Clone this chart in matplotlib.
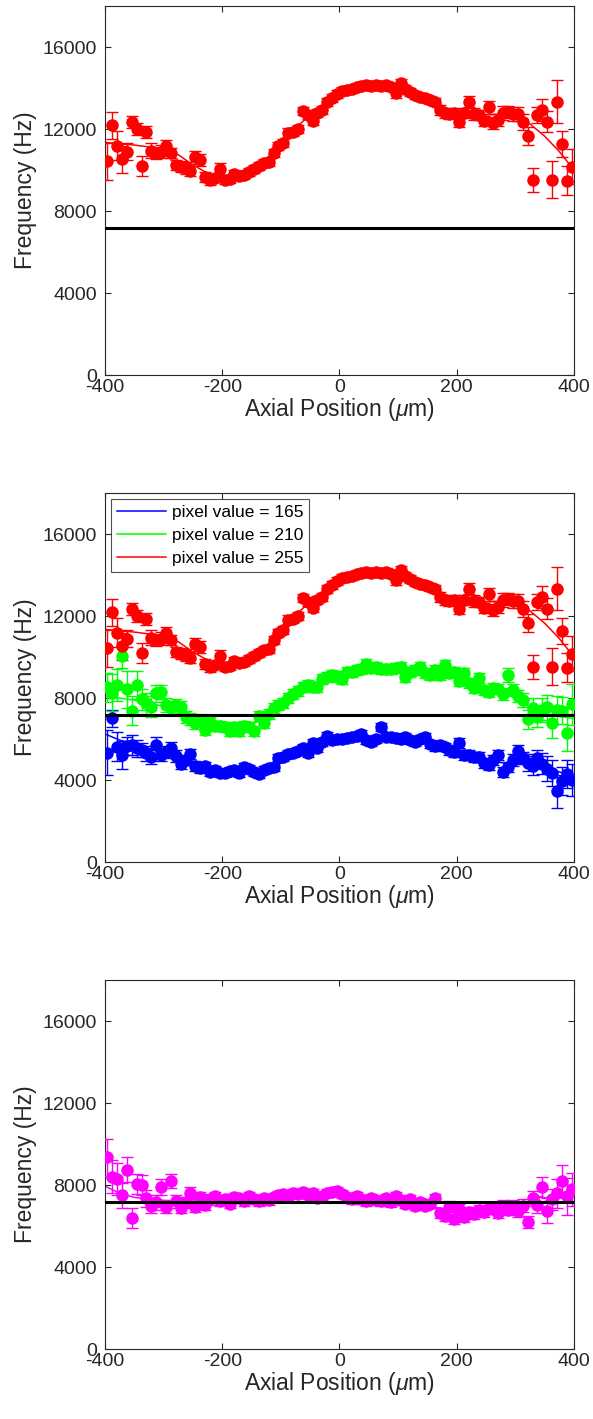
import matplotlib.pyplot as plt
import numpy as np

plt.rcParams['font.family'] = ['Liberation Sans', 'DejaVu Sans']
plt.rcParams['axes.unicode_minus'] = False
plt.rcParams['mathtext.fontset'] = 'custom'
plt.rcParams['mathtext.rm'] = 'Liberation Sans'
plt.rcParams['mathtext.it'] = 'Liberation Sans:italic'

# axial positions of the measured points (um), evenly spaced grid
x_pos = np.linspace(-396, 396, 96)

red_freq = [10440, 12190, 11190, 10530, 10900, 12350, 12020, 10200, 11860, 10950,
            10820, 10900, 11180, 10850, 10250, 10170, 10090, 9970, 10620, 10490,
            9650, 9520, 9600, 10050, 9520, 9550, 9810, 9710, 9760, 9920,
            10040, 10200, 10330, 10410, 10820, 11180, 11310, 11830, 11870, 12000,
            12900, 12690, 12410, 12770, 12930, 13340, 13500, 13700, 13850, 13900,
            13950, 14050, 14100, 14150, 14100, 14150, 14100, 14150, 14050, 13750,
            14250, 13950, 13825, 13660, 13580, 13500, 13420, 13340, 12930, 12770,
            12740, 12800, 12360, 12800, 13340, 12740, 12690, 12410, 13060, 12280,
            12440, 12770, 12850, 12740, 12740, 12360, 11660, 9520, 12690, 12930,
            12360, 9520, 13340, 11270, 9480, 10170]
red_err = [900, 650, 700, 650, 400, 300, 300, 500, 300, 350, 300, 300, 300, 250, 250, 250, 300, 250, 300, 300,
           250, 250, 200, 300, 200, 200, 200, 200, 200, 200, 200, 200, 200, 200, 200, 200, 200, 200, 200, 200,
           200, 200, 200, 200, 200, 200, 200, 200, 200, 200, 200, 200, 200, 200, 200, 200, 200, 200, 200, 250,
           200, 200, 200, 200, 200, 200, 200, 200, 250, 250, 250, 250, 250, 250, 250, 300, 250, 250, 300, 300,
           300, 350, 300, 350, 350, 400, 450, 600, 400, 550, 500, 900, 1050, 650, 700, 850]

green_freq = [8525, 8262, 8638, 10053, 8427, 7384, 8638, 7940, 7745, 7580,
              8232, 8310, 7662, 7500, 7662, 7580, 7090, 6963, 6768, 6930,
              6442, 6850, 6637, 6637, 6572, 6408, 6572, 6408, 6637, 6572,
              6408, 7125, 6800, 7222, 7500, 7662, 7774, 7988, 8198, 8360,
              8525, 8638, 8555, 8555, 8915, 9013, 9126, 9050, 8915, 9287,
              9287, 9370, 9400, 9662, 9450, 9530, 9400, 9400, 9400, 9450,
              9530, 9042, 9287, 9370, 9530, 9207, 9126, 9370, 9126, 9613,
              9207, 9287, 8850, 9240, 8752, 8475, 8963, 8394, 8310, 8475,
              8426, 8198, 9126, 8394, 8100, 7906, 6963, 7500, 7090, 7418,
              7549, 6768, 7418, 7384, 6310, 7710]
green_err = [700, 900, 800, 600, 900, 700, 700, 500, 500, 500, 400, 350, 350, 350, 300, 300, 300, 300, 300, 300,
             250, 250, 250, 250, 250, 250, 250, 250, 250, 250, 250, 250, 250, 250, 250, 250, 250, 250, 250, 250,
             250, 250, 250, 250, 250, 250, 250, 250, 250, 250, 250, 250, 250, 250, 250, 250, 250, 250, 250, 250,
             250, 250, 250, 250, 250, 250, 250, 250, 250, 250, 250, 250, 250, 250, 250, 250, 250, 250, 250, 250,
             250, 300, 350, 300, 300, 350, 450, 500, 500, 600, 600, 700, 700, 650, 900, 1000]

blue_freq = [5335, 7012, 5627, 5222, 5660, 5710, 5548, 5466, 5303, 5140,
             5710, 5222, 5384, 5548, 5173, 4782, 4978, 5270, 4685, 4572,
             4685, 4407, 4490, 4328, 4360, 4455, 4490, 4328, 4650, 4523,
             4407, 4294, 4490, 4572, 4650, 5060, 5140, 5270, 5303, 5431,
             5548, 5303, 5822, 5548, 5870, 6149, 5954, 5990, 5990, 6040,
             6120, 6150, 6250, 5950, 5870, 5990, 6570, 6120, 6120, 6040,
             5990, 6120, 5950, 5870, 5990, 6120, 5760, 5660, 5710, 5600,
             5470, 5380, 5790, 5220, 5220, 5140, 5140, 4820, 4730, 4980,
             5220, 4400, 4650, 4980, 5430, 5060, 4850, 4700, 5100, 4800,
             4550, 4350, 3450, 3950, 4300, 4000]
blue_err = [1100, 400, 700, 700, 450, 500, 400, 350, 350, 350, 400, 300, 300, 300, 300, 250, 250, 250, 250, 250,
            200, 200, 200, 200, 200, 200, 200, 200, 200, 200, 200, 200, 200, 200, 200, 200, 200, 200, 200, 200,
            200, 200, 200, 200, 200, 200, 200, 200, 200, 200, 200, 200, 200, 200, 200, 200, 200, 200, 200, 200,
            200, 200, 200, 200, 200, 200, 200, 250, 200, 200, 250, 250, 250, 250, 250, 250, 250, 250, 250, 250,
            250, 250, 250, 300, 300, 300, 400, 450, 350, 500, 600, 650, 800, 700, 700, 800]

magenta_freq = [9350, 8400, 8300, 7500, 8750, 6400, 8050, 8000, 7350, 7000,
                7150, 7900, 6950, 8200, 7200, 6900, 7150, 7600, 6950, 7400,
                7050, 7300, 7450, 7200, 7300, 7100, 7400, 7350, 7200, 7450,
                7300, 7200, 7350, 7250, 7400, 7500, 7550, 7450, 7600, 7550,
                7650, 7500, 7600, 7350, 7450, 7600, 7650, 7700, 7550, 7400,
                7300, 7450, 7300, 7200, 7350, 7250, 7200, 7350, 7150, 7450,
                7250, 7100, 7300, 7000, 7150, 7000, 7100, 7350, 6650, 6500,
                6950, 6350, 6850, 6450, 6700, 6600, 6800, 6700, 6900, 6850,
                6650, 7000, 6800, 6950, 6750, 7000, 6200, 7350, 7050, 7900,
                6750, 7300, 7600, 8200, 7450, 7800]
magenta_err = [900, 800, 800, 600, 600, 500, 500, 500, 400, 350, 350, 400, 300, 350, 300, 250, 250, 300, 250, 250,
               250, 250, 200, 200, 200, 200, 200, 200, 200, 200, 200, 200, 200, 200, 200, 200, 200, 200, 200, 200,
               200, 200, 200, 200, 200, 200, 200, 200, 200, 200, 200, 200, 200, 200, 200, 200, 200, 200, 200, 200,
               200, 200, 200, 200, 200, 200, 200, 200, 250, 250, 250, 250, 250, 250, 250, 250, 250, 250, 250, 250,
               250, 250, 250, 300, 300, 300, 300, 350, 400, 500, 600, 500, 700, 800, 900, 800]

# fitted curves, sampled every 25 um
fit_x = [-400, -375, -350, -325, -300, -275, -250, -225, -200, -175, -150, -125, -100, -75, -50, -25,
         0, 25, 50, 75, 100, 125, 150, 175, 200, 225, 250, 275, 300, 325, 350, 375, 400]
red_fit = [11350, 11280, 11220, 11130, 11000, 10750, 10250, 9850, 9680, 9750, 10050, 10550, 11250, 12050,
           12700, 13200, 13650, 13950, 14100, 14120, 14000, 13750, 13450, 13100, 12850, 12750, 12700, 12720,
           12650, 12250, 11650, 10900, 10000]
green_fit = [8100, 8000, 7900, 7750, 7600, 7350, 7000, 6750, 6600, 6550, 6700, 7100, 7600, 8100, 8500, 8850,
             9100, 9300, 9400, 9450, 9450, 9350, 9250, 9150, 9000, 8800, 8550, 8300, 8000, 7550, 7250, 7100, 7000]
blue_fit = [6250, 5950, 5750, 5550, 5350, 5050, 4750, 4500, 4400, 4400, 4450, 4650, 5050, 5400, 5650, 5850,
            6000, 6100, 6100, 6100, 6050, 6000, 5900, 5700, 5450, 5250, 5000, 4850, 4800, 4750, 4600, 4400, 4150]
magenta_fit = [7950, 7600, 7400, 7300, 7250, 7220, 7220, 7250, 7280, 7300, 7350, 7400, 7450, 7500, 7520, 7500,
               7450, 7380, 7300, 7250, 7200, 7100, 7000, 6850, 6750, 6700, 6750, 6850, 6950, 7050, 7200, 7400, 7700]

ref_freq = 7150
legend_labels = ['pixel value = 165', 'pixel value = 210', 'pixel value = 255']

RED = '#ff0000'
GREEN = '#00ff00'
BLUE = '#0000ff'
MAGENTA = '#ff00ff'
AXCOL = '#262626'


def draw_series(ax, y, err, fit, color, label=None):
    ax.errorbar(x_pos, y, yerr=err, fmt='o', color=color, ms=8, elinewidth=1.0,
                capsize=4, capthick=1.0, zorder=3)
    line, = ax.plot(fit_x, fit, '-', color=color, lw=1.1, zorder=2, label=label)
    return line


def style_axis(ax):
    ax.axhline(ref_freq, color='black', lw=2.2, zorder=4)
    ax.set_xlim(-400, 400)
    ax.set_ylim(0, 18000)
    ax.set_xticks([-400, -200, 0, 200, 400])
    ax.set_yticks([0, 4000, 8000, 12000, 16000])
    ax.tick_params(direction='in', top=True, right=True, length=4, width=0.8,
                   color=AXCOL, labelcolor=AXCOL, labelsize=14)
    ax.tick_params(axis='x', pad=2.5)
    ax.tick_params(axis='y', pad=6)
    for sp in ax.spines.values():
        sp.set_color(AXCOL)
        sp.set_linewidth(0.8)
    ax.set_xlabel(r'Axial Position ($\mu$m)', fontsize=16.5, color=AXCOL, labelpad=0)
    ax.set_ylabel('Frequency (Hz)', fontsize=16.5, color=AXCOL, labelpad=4)


fig = plt.figure(figsize=(5.93, 14.19), dpi=100)
ax1 = fig.add_axes([0.177, 0.7357, 0.791, 0.260])
ax2 = fig.add_axes([0.177, 0.3925, 0.791, 0.260])
ax3 = fig.add_axes([0.177, 0.0493, 0.791, 0.260])

draw_series(ax1, red_freq, red_err, red_fit, RED)
style_axis(ax1)

lb = draw_series(ax2, blue_freq, blue_err, blue_fit, BLUE, legend_labels[0])
lg = draw_series(ax2, green_freq, green_err, green_fit, GREEN, legend_labels[1])
lr = draw_series(ax2, red_freq, red_err, red_fit, RED, legend_labels[2])
style_axis(ax2)
leg = ax2.legend(handles=[lb, lg, lr], loc='upper left', fontsize=12.5, frameon=True, fancybox=False,
                 borderaxespad=0.35, handlelength=2.8, handletextpad=0.35, labelspacing=0.45,
                 borderpad=0.35)
leg.get_frame().set_edgecolor(AXCOL)
leg.get_frame().set_linewidth(0.8)
leg.set_zorder(10)

draw_series(ax3, magenta_freq, magenta_err, magenta_fit, MAGENTA)
style_axis(ax3)

fig.savefig('out.png', dpi=100)
